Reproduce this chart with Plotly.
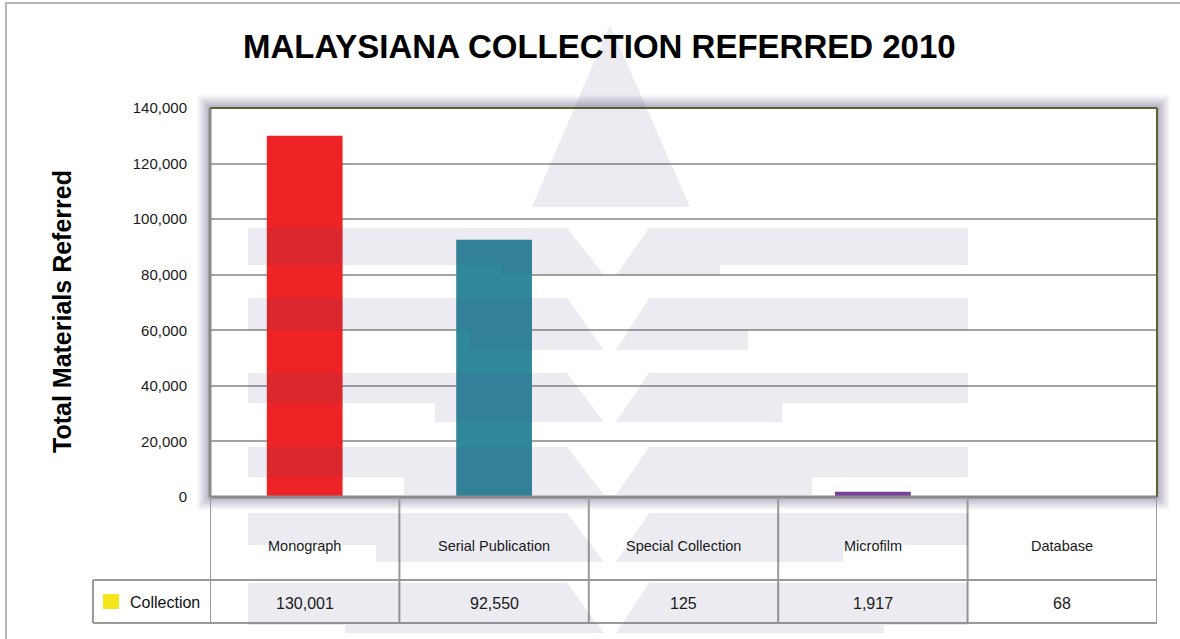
import plotly.graph_objects as go

# ---------------- data ----------------
categories = ["Monograph", "Serial Publication", "Special Collection", "Microfilm", "Database"]
values = [130001, 92550, 125, 1917, 68]
bar_colors = ["#EE2325", "#30889B", "#8DB33C", "#7A3D9A", "#F79646"]
series_name = "Collection"
y_ticks = [0, 20000, 40000, 60000, 80000, 100000, 120000, 140000]
title_text = "MALAYSIANA COLLECTION REFERRED 2010"
y_title = "Total Materials Referred"

W, H = 1180, 639
L, R, T, B = 210, 1157, 108, 497  # plot area in pixels


def px(x):
    return (x - L) / (R - L)


def py(y):
    return (B - y) / (B - T)


FONT = "Liberation Sans, Arial, sans-serif"

fig = go.Figure()
fig.add_trace(go.Bar(
    x=categories, y=values, name=series_name,
    marker=dict(color=bar_colors, line=dict(width=0)),
    width=0.4, showlegend=False,
))

shapes = []
annotations = []

# outer frame
shapes.append(dict(type="rect", xref="paper", yref="paper",
                   x0=px(6), x1=px(1190), y0=py(3), y1=py(650),
                   line=dict(color="#b4b4b4", width=2), fillcolor="rgba(0,0,0,0)", layer="below"))

# soft shadow around plot area (1px outlines fading outward)
for d in range(1, 15):
    op = max(0.0, 0.8 * (1 - d / 14) ** 1.3)
    shapes.append(dict(type="rect", xref="paper", yref="paper",
                       x0=px(L - d), x1=px(R + d), y0=py(B + d), y1=py(T - d),
                       line=dict(color=f"rgba(140,128,162,{op:.3f})", width=1),
                       fillcolor="rgba(0,0,0,0)", layer="below"))

# plot border
shapes.append(dict(type="line", xref="paper", yref="paper", x0=0, x1=0, y0=0, y1=1,
                   line=dict(color="#8a8a8a", width=3)))
shapes.append(dict(type="line", xref="paper", yref="paper", x0=0, x1=1, y0=0, y1=0,
                   line=dict(color="#8a8a8a", width=3)))
shapes.append(dict(type="line", xref="paper", yref="paper", x0=0, x1=1, y0=1, y1=1,
                   line=dict(color="#55692f", width=2)))
shapes.append(dict(type="line", xref="paper", yref="paper", x0=1, x1=1, y0=0, y1=1,
                   line=dict(color="#55692f", width=2)))

# data table below the chart
grid_col = "#9a9a9a"
row_mid, row_bot, left_col = 580, 623, 93
for i in range(len(categories) + 1):
    shapes.append(dict(type="line", xref="x", yref="paper", x0=i - 0.5, x1=i - 0.5,
                       y0=py(B), y1=py(row_bot), line=dict(color=grid_col, width=2)))
shapes.append(dict(type="line", xref="paper", yref="paper", x0=px(left_col), x1=px(left_col),
                   y0=py(row_mid), y1=py(row_bot), line=dict(color=grid_col, width=2)))
for yy in (row_mid, row_bot):
    shapes.append(dict(type="line", xref="paper", yref="paper", x0=px(left_col), x1=1,
                       y0=py(yy), y1=py(yy), line=dict(color=grid_col, width=2)))
# legend key
shapes.append(dict(type="rect", xref="paper", yref="paper", x0=px(103), x1=px(119),
                   y0=py(609), y1=py(594), fillcolor="#F5E51B", line=dict(width=0)))
annotations.append(dict(text=series_name, xref="paper", yref="paper", x=px(128), y=py(602),
                        xanchor="left", yanchor="middle", showarrow=False,
                        font=dict(family=FONT, size=16, color="#111")))
for c, v in zip(categories, values):
    annotations.append(dict(text=c, xref="x", yref="paper", x=c, y=py(546),
                            xanchor="center", yanchor="middle", showarrow=False,
                            font=dict(family=FONT, size=14.5, color="#1a1a1a")))
    annotations.append(dict(text=f"{v:,}", xref="x", yref="paper", x=c, y=py(603),
                            xanchor="center", yanchor="middle", showarrow=False,
                            font=dict(family=FONT, size=16, color="#1a1a1a")))

# y-axis title and chart title
annotations.append(dict(text=f"<b>{y_title}</b>", xref="paper", yref="paper", x=px(62), y=py(312),
                        textangle=-90, showarrow=False, xanchor="center", yanchor="middle",
                        font=dict(family=FONT, size=25, color="#000")))
annotations.append(dict(text=f"<b>{title_text}</b>", xref="paper", yref="paper", x=px(599), y=py(47),
                        showarrow=False, xanchor="center", yanchor="middle",
                        font=dict(family=FONT, size=33, color="#000")))

# faint background watermark (logo-like) drawn as translucent overlay
wm = dict(fillcolor="rgb(70,70,130)", opacity=0.11, line=dict(width=0), layer="above",
          xref="paper", yref="paper", type="path")


def poly(pts):
    return "M " + " L ".join(f"{px(a):.5f},{py(b):.5f}" for a, b in pts) + " Z"


shapes.append(dict(path=poly([(610, 25), (532, 207), (690, 207)]), **wm))
bands = [(228, 265, 275, 501, 720), (298, 330, 350, 470, 748), (373, 403, 422, 435, 782),
         (447, 477, 495, 404, 812), (513, 545, 562, 376, 843), (583, 625, 633, 345, 884)]
for yt, ym, yb, xl, xr in bands:
    glt, grt = 567, 649
    f = (ym - yt) / (yb - yt)
    glm, grm = glt + (604 - glt) * f, grt + (616 - grt) * f
    shapes.append(dict(path=poly([(248, yt), (glt, yt), (glm, ym), (248, ym)]), **wm))
    shapes.append(dict(path=poly([(xl, ym), (glm, ym), (604, yb), (xl, yb)]), **wm))
    shapes.append(dict(path=poly([(grt, yt), (968, yt), (968, ym), (grm, ym)]), **wm))
    shapes.append(dict(path=poly([(grm, ym), (xr, ym), (xr, yb), (616, yb)]), **wm))

fig.update_layout(
    width=W, height=H,
    margin=dict(l=L, r=W - R, t=T, b=H - B, pad=0),
    paper_bgcolor="white", plot_bgcolor="white",
    showlegend=False,
    shapes=shapes, annotations=annotations,
    xaxis=dict(type="category", range=[-0.5, 4.5], showticklabels=False, showgrid=False,
               showline=False, zeroline=False, fixedrange=True),
    yaxis=dict(range=[0, 140000], tickvals=y_ticks, tickformat=",", showgrid=True,
               gridcolor="#a3a3a3", gridwidth=2, showline=False, zeroline=False,
               ticklabelstandoff=22, tickfont=dict(family=FONT, size=15, color="#1a1a1a")),
    bargap=0.6,
)

fig.write_html("out.html", config={"displayModeBar": False},
               post_script="document.body.style.margin='0';document.body.style.overflow='hidden';")
